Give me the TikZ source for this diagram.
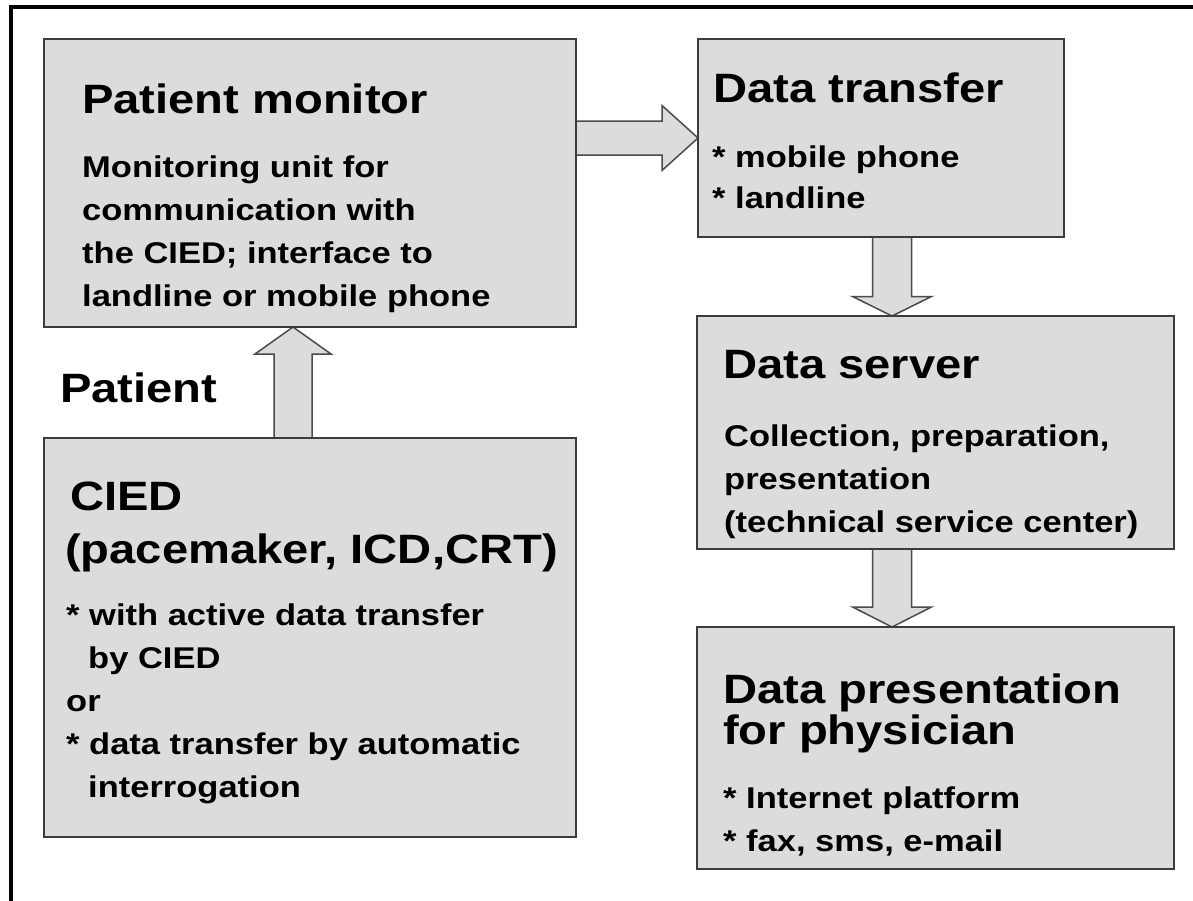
\documentclass[tikz,border=0pt]{standalone}
\usepackage{fontspec}
\setmainfont{Liberation Sans}[FakeStretch=1.15]
\usetikzlibrary{calc}

\definecolor{boxfill}{RGB}{220,220,220}
\definecolor{boxline}{RGB}{60,60,60}
\definecolor{arrowline}{RGB}{75,75,75}

\newcommand\titlefont{\bfseries\fontsize{41}{41}\selectfont}
\newcommand\bodyfont{\bfseries\fontsize{30}{30}\selectfont}

\pgfdeclarelayer{bg}
\pgfsetlayers{bg,main}

\tikzset{
  panel/.style={rectangle, draw=boxline, fill=boxfill, line width=2pt,
    inner sep=0pt, outer sep=0pt, anchor=north west},
  ttl/.style={font=\titlefont, inner sep=0pt, anchor=base west, text=black},
  txt/.style={font=\bodyfont, inner sep=0pt, anchor=base west, text=black},
  blockarrow/.style={draw=arrowline, fill=boxfill, line width=1.5pt, line join=miter},
  frame/.style={draw=black, line width=4pt},
}

% block arrow from #1 to #2: shaft half width #3, head half width #4, head length #5
\newcommand\flowarrow[5]{%
  \coordinate (fa-hb) at ($(#2)!#5!(#1)$);
  \draw[blockarrow] ($(#1)!#3!90:(#2)$) -- ($(fa-hb)!#3!90:(#2)$)
    -- ($(fa-hb)!#4!90:(#2)$) -- (#2) -- ($(fa-hb)!#4!-90:(#2)$)
    -- ($(fa-hb)!#3!-90:(#2)$) -- ($(#1)!#3!-90:(#2)$) -- cycle;
}

\begin{document}
\begin{tikzpicture}[x=1pt, y=-1pt]
\useasboundingbox (0,0) rectangle (1193,900);
\clip (0,0) rectangle (1193,900);

% outer frame (left and top edges)
\draw[frame] (11,920) |- (1220,6.5);

% boxes
\node[panel, minimum width=532pt, minimum height=288pt] (pm)   at (44,39)  {};
\node[panel, minimum width=366pt, minimum height=198pt] (dt)   at (698,39) {};
\node[panel, minimum width=477pt, minimum height=233pt] (ds)   at (697,316) {};
\node[panel, minimum width=477pt, minimum height=242pt] (dp)   at (697,627) {};
\node[panel, minimum width=532pt, minimum height=399pt] (cied) at (44,438) {};

% patient monitor
\node[ttl] (pm-title) at (82,113) {Patient monitor};
\node[txt] (pm-l1) at (82,177) {Monitoring unit for};
\node[txt] (pm-l2) at (82,220) {communication with};
\node[txt] (pm-l3) at (82,263) {the CIED; interface to};
\node[txt] (pm-l4) at (82,306) {landline or mobile phone};

% patient label
\node[ttl] (patient) at (60,402) {Patient};

% CIED
\node[ttl] (cied-t1) at (70,510) {CIED};
\node[ttl] (cied-t2) at (65,563) {(pacemaker, ICD,CRT)};
\node[txt] (cied-l1) at (66,625) {* with active data transfer};
\node[txt] (cied-l2) at (88,668) {by CIED};
\node[txt] (cied-l3) at (66,711) {or};
\node[txt] (cied-l4) at (66,754) {* data transfer by automatic};
\node[txt] (cied-l5) at (88,797) {interrogation};

% data transfer
\node[ttl] (dt-title) at (713,102) {Data transfer};
\node[txt] (dt-l1) at (712,167) {* mobile phone};
\node[txt] (dt-l2) at (712,208) {* landline};

% data server
\node[ttl] (ds-title) at (723,378) {Data server};
\node[txt] (ds-l1) at (724,446) {Collection, preparation,};
\node[txt] (ds-l2) at (724,489) {presentation};
\node[txt] (ds-l3) at (724,532) {(technical service center)};

% data presentation
\node[ttl] (dp-t1) at (723,703) {Data presentation};
\node[ttl] (dp-t2) at (723,744) {for physician};
\node[txt] (dp-l1) at (723,808) {* Internet platform};
\node[txt] (dp-l2) at (723,851) {* fax, sms, e-mail};

% connectors
\coordinate (a1s) at (pm.east |- dt.west);
\coordinate (a2s) at ($(cied.north)+(-17,0)$);
\coordinate (a2e) at (a2s |- pm.south);
\coordinate (a3s) at ($(dt.south)+(11,0)$);
\coordinate (a3e) at (a3s |- ds.north);
\coordinate (a4s) at (a3s |- ds.south);
\coordinate (a4e) at (a3s |- dp.north);

\begin{pgfonlayer}{bg}
  \fill[white] (0,0) rectangle (1193,900);
  \flowarrow{a1s}{dt.west}{17pt}{32.5pt}{36pt}
  \flowarrow{a2s}{a2e}{19pt}{38pt}{27pt}
  \flowarrow{a3s}{a3e}{19.5pt}{39.5pt}{19.5pt}
  \flowarrow{a4s}{a4e}{19.5pt}{39.5pt}{20pt}
\end{pgfonlayer}
\end{tikzpicture}
\end{document}
